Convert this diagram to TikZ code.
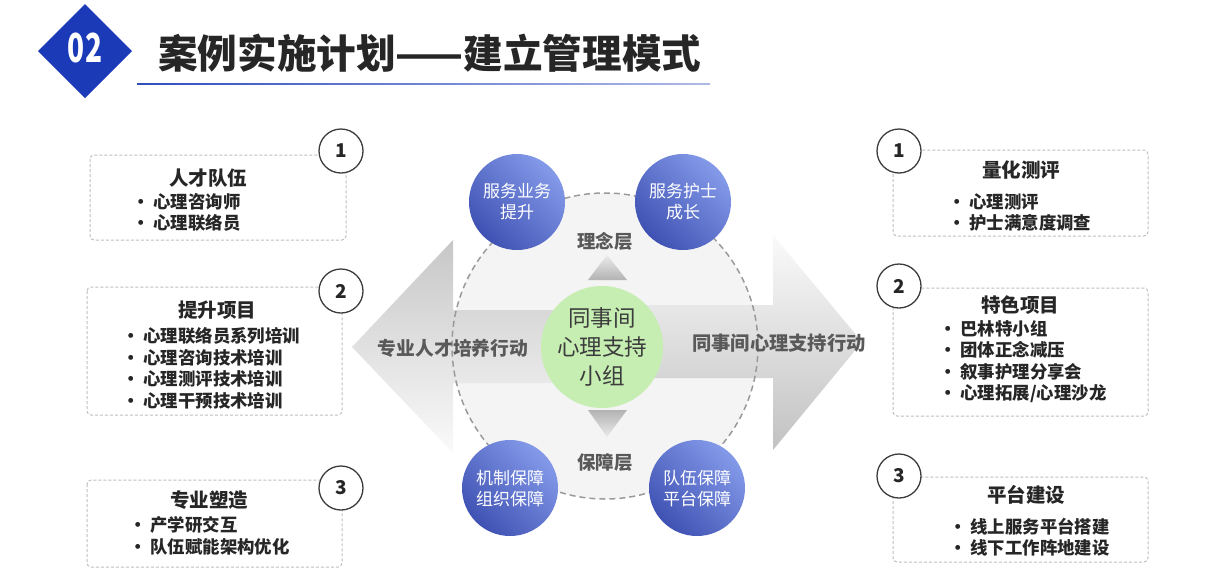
\documentclass[tikz,border=0pt]{standalone}
\usepackage{fontspec}
\newfontfamily\cjk{Noto Sans CJK SC}
\usetikzlibrary{positioning}

\definecolor{titleblue}{HTML}{1A3AB8}
\definecolor{textdark}{HTML}{262626}
\definecolor{labelgray}{HTML}{595959}
\definecolor{boxgray}{HTML}{BDBDBD}
\definecolor{ringgray}{HTML}{9A9A9A}
\definecolor{padgray}{HTML}{F4F4F4}
\definecolor{coregreen}{HTML}{C6EEB2}
\definecolor{bluelt}{HTML}{849AE9}
\definecolor{bluedk}{HTML}{3F52B3}

\begin{document}
\begin{tikzpicture}[x=1pt,y=-1pt,
    listbox/.style={draw=boxgray,line width=1pt,dash pattern=on 3pt off 2pt,rounded corners=4pt},
    numring/.style={circle,draw=textdark!90,line width=1.3pt,fill=white,minimum size=44pt,inner sep=0pt,
      text=textdark,font=\cjk\bfseries\fontsize{19}{19}\selectfont},
    boxtitle/.style={text=textdark,inner sep=0pt,font=\cjk\bfseries\fontsize{19.5}{20}\selectfont},
    boxlist/.style={text=textdark,inner sep=0pt,align=left,anchor=west,font=\cjk\bfseries\fontsize{17.4}{21.6}\selectfont},
    bluedot/.style={circle,minimum size=96pt,inner sep=0pt,top color=bluelt,bottom color=bluedk,shading angle=-45,
      text=white,align=center,font=\cjk\fontsize{17}{21}\selectfont},
    layer/.style={text=labelgray,inner sep=0pt,font=\cjk\bfseries\fontsize{18.5}{20}\selectfont}]
    \useasboundingbox (0,0) rectangle (1218,571);

    % HEADER
    \fill[titleblue] (85,4) -- (132,51) -- (85,98) -- (38,51) -- cycle;
    \node[text=white,font=\cjk\bfseries\fontsize{40}{40}\selectfont,xscale=0.7] (NUM) at (85,48) {02};
    \node[anchor=west,inner sep=0pt,text=textdark,font=\cjk\bfseries\fontsize{39.6}{40}\selectfont] (TITLE)
      at (158,53) {案例实施计划——建立管理模式};
    \shade[left color=titleblue!90,right color=titleblue!35] (137,83.3) rectangle (710,84.8);

    % CENTER PAD
    \fill[padgray] (605,346) circle (153);
    \shade[top color=black!22,bottom color=black!2]
      (352,347) -- (453,240) -- (453,310) -- (605,310) -- (605,383) -- (453,383) -- (453,453) -- cycle;
    \shade[top color=black!2,bottom color=black!24]
      (862,342) -- (773,235) -- (773,305) -- (600,305) -- (600,378) -- (773,378) -- (773,450) -- cycle;
    \draw[ringgray,line width=1.5pt,dash pattern=on 6pt off 4pt] (605,346) circle (153);
    \shade[top color=black!8,bottom color=black!30] (607,255) -- (627,280) -- (588,280) -- cycle;
    \shade[top color=black!30,bottom color=black!8] (588,410) -- (627,410) -- (607,437) -- cycle;

    \node[layer] (IDEA) at (605,241) {理念层};
    \node[layer] (BASE) at (605,462) {保障层};
    \node[layer,font=\cjk\bfseries\fontsize{18.8}{20}\selectfont] (LEFT_ACT) at (453,348) {专业人才培养行动};
    \node[layer,font=\cjk\bfseries\fontsize{19.3}{20}\selectfont] (RIGHT_ACT) at (779,343) {同事间心理支持行动};

    \node[circle,fill=coregreen,minimum size=122pt,inner sep=0pt,align=center,text=textdark!90,
      font=\cjk\fontsize{22.5}{29}\selectfont] (CORE) at (602,347) {同事间\\心理支持\\小组};

    \node[bluedot] (SERVE_1) at (517,202) {服务业务\\提升};
    \node[bluedot] (SERVE_2) at (683,202) {服务护士\\成长};
    \node[bluedot] (GUARD_1) at (510,488) {机制保障\\组织保障};
    \node[bluedot] (GUARD_2) at (697,488) {队伍保障\\平台保障};

    % LEFT BOXES
    \draw[listbox] (90,155) rectangle (346,240);
    \node[numring] (L_1) at (341,151) {1};
    \node[boxtitle] (L_1_T) at (208,178) {人才队伍};
    \node[boxlist] (L_1_L) at (132,212.5) {•\hspace{4pt}心理咨询师\\•\hspace{4pt}心理联络员};

    \draw[listbox] (87,287) rectangle (342,415);
    \node[numring] (L_2) at (341,291) {2};
    \node[boxtitle] (L_2_T) at (217,310) {提升项目};
    \node[boxlist] (L_2_L) at (122,368.5) {•\hspace{4pt}心理联络员系列培训\\•\hspace{4pt}心理咨询技术培训\\•\hspace{4pt}心理测评技术培训\\•\hspace{4pt}心理干预技术培训};

    \draw[listbox] (87,480) rectangle (342,567);
    \node[numring] (L_3) at (341,488) {3};
    \node[boxtitle] (L_3_T) at (209,500) {专业塑造};
    \node[boxlist] (L_3_L) at (129,536) {•\hspace{4pt}产学研交互\\•\hspace{4pt}队伍赋能架构优化};

    % RIGHT BOXES
    \draw[listbox] (893,150) rectangle (1148,236);
    \node[numring] (R_1) at (899,151) {1};
    \node[boxtitle] (R_1_T) at (1021,170) {量化测评};
    \node[boxlist] (R_1_L) at (948,212.5) {•\hspace{4pt}心理测评\\•\hspace{4pt}护士满意度调查};

    \draw[listbox] (893,288) rectangle (1148,416);
    \node[numring] (R_2) at (899,286) {2};
    \node[boxtitle] (R_2_T) at (1020,305) {特色项目};
    \node[boxlist] (R_2_L) at (939,361.5) {•\hspace{4pt}巴林特小组\\•\hspace{4pt}团体正念减压\\•\hspace{4pt}叙事护理分享会\\•\hspace{4pt}心理拓展/心理沙龙};

    \draw[listbox] (893,477) rectangle (1148,562);
    \node[numring] (R_3) at (899,476) {3};
    \node[boxtitle] (R_3_T) at (1026,495) {平台建设};
    \node[boxlist] (R_3_L) at (949,537) {•\hspace{4pt}线上服务平台搭建\\•\hspace{4pt}线下工作阵地建设};
  \end{tikzpicture}
\end{document}
